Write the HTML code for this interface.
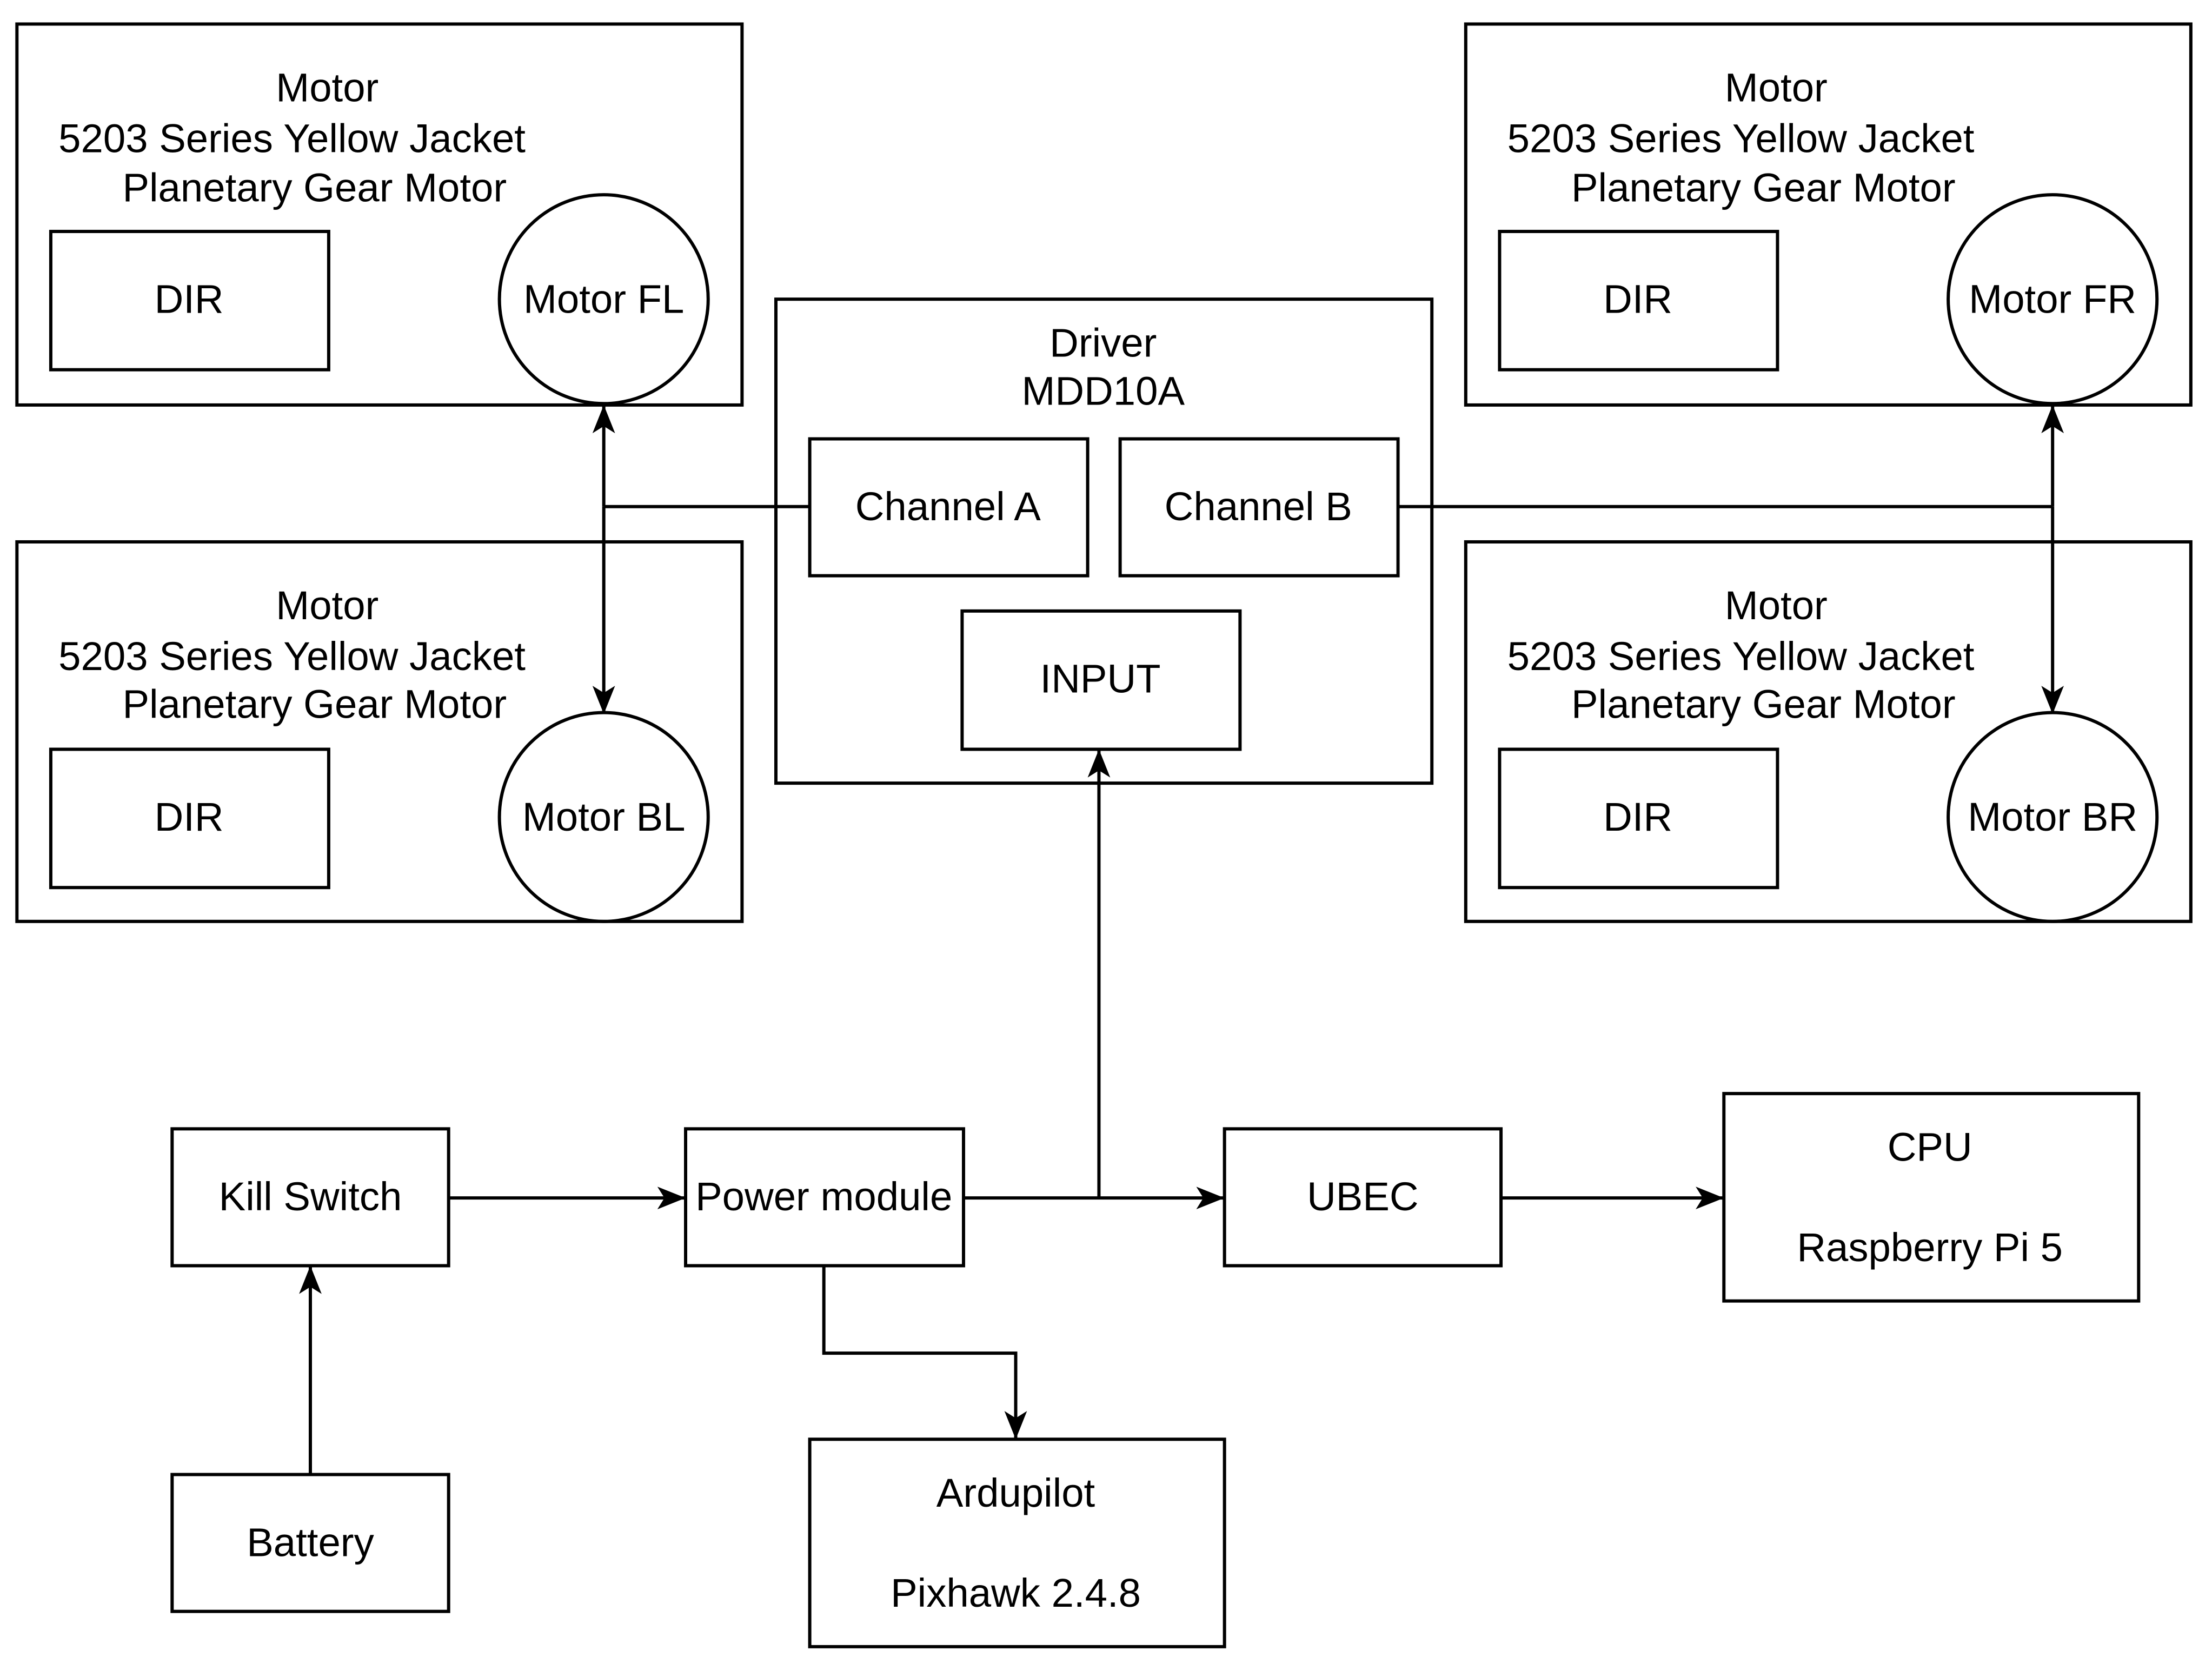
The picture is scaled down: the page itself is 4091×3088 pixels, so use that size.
<!DOCTYPE html>
<html><head><meta charset="utf-8"><style>
html,body{margin:0;padding:0;background:#fff;}
svg{display:block;}
text{font-family:"Liberation Sans",sans-serif;font-size:28.5px;fill:#000;text-anchor:middle;dominant-baseline:central;}
</style></head><body>
<svg width="4091" height="3088" viewBox="0 0 1568 1183.5" xmlns="http://www.w3.org/2000/svg">
<defs>
<marker id="b" markerWidth="20" markerHeight="20" refX="19" refY="10" orient="auto-start-reverse" markerUnits="userSpaceOnUse" viewBox="0 0 20 20"><path d="M0,2 L20,10 L0,18 L5,10 Z" fill="#000"/></marker></defs>
<rect width="1568" height="1184" fill="#fff"/>
<g fill="none" stroke="#000" stroke-width="2.3">
<rect x="12" y="17" width="514" height="270"/>
<rect x="36" y="164" width="197" height="98"/>
<circle cx="428" cy="212" r="74" fill="#fff"/>
<rect x="12" y="384" width="514" height="269"/>
<rect x="36" y="531" width="197" height="98"/>
<circle cx="428" cy="579" r="74" fill="#fff"/>
<rect x="1039" y="17" width="514" height="270"/>
<rect x="1063" y="164" width="197" height="98"/>
<circle cx="1455" cy="212" r="74" fill="#fff"/>
<rect x="1039" y="384" width="514" height="269"/>
<rect x="1063" y="531" width="197" height="98"/>
<circle cx="1455" cy="579" r="74" fill="#fff"/>
<rect x="550" y="212" width="465" height="343"/>
<rect x="574" y="311" width="197" height="97"/>
<rect x="794" y="311" width="197" height="97"/>
<rect x="682" y="433" width="197" height="98"/>
<rect x="122" y="800" width="196" height="97"/>
<rect x="122" y="1045" width="196" height="97"/>
<rect x="486" y="800" width="197" height="97"/>
<rect x="868" y="800" width="196" height="97"/>
<rect x="1222" y="775" width="294" height="147"/>
<rect x="574" y="1020" width="294" height="147"/>
<path d="M574,359 H428"/>
<path d="M428,359 V288" marker-end="url(#b)"/>
<path d="M428,359 V505" marker-end="url(#b)"/>
<path d="M991,359 H1455"/>
<path d="M1455,359 V288" marker-end="url(#b)"/>
<path d="M1455,359 V505" marker-end="url(#b)"/>
<path d="M220,1045 V898" marker-end="url(#b)"/>
<path d="M318,849 H485" marker-end="url(#b)"/>
<path d="M683,849 H867" marker-end="url(#b)"/>
<path d="M779,849 V532" marker-end="url(#b)"/>
<path d="M1064,849 H1221" marker-end="url(#b)"/>
<path d="M584,897 V959 H720 V1019" marker-end="url(#b)"/>
</g>
<g>
<text x="232" y="62">Motor</text><text x="207" y="98">5203 Series Yellow Jacket</text><text x="223" y="133">Planetary Gear Motor</text>
<text x="134" y="212">DIR</text><text x="428" y="212">Motor FL</text>
<text x="232" y="429">Motor</text><text x="207" y="465">5203 Series Yellow Jacket</text><text x="223" y="499">Planetary Gear Motor</text>
<text x="134" y="579">DIR</text><text x="428" y="579">Motor BL</text>
<text x="1259" y="62">Motor</text><text x="1234" y="98">5203 Series Yellow Jacket</text><text x="1250" y="133">Planetary Gear Motor</text>
<text x="1161" y="212">DIR</text><text x="1455" y="212">Motor FR</text>
<text x="1259" y="429">Motor</text><text x="1234" y="465">5203 Series Yellow Jacket</text><text x="1250" y="499">Planetary Gear Motor</text>
<text x="1161" y="579">DIR</text><text x="1455" y="579">Motor BR</text>
<text x="782" y="243">Driver</text><text x="782" y="277">MDD10A</text>
<text x="672" y="359">Channel A</text><text x="892" y="359">Channel B</text><text x="780" y="481">INPUT</text>
<text x="220" y="848">Kill Switch</text><text x="220" y="1093">Battery</text>
<text x="584" y="848">Power module</text><text x="966" y="848">UBEC</text>
<text x="1368" y="813">CPU</text><text x="1368" y="884">Raspberry Pi 5</text>
<text x="720" y="1058">Ardupilot</text><text x="720" y="1129">Pixhawk 2.4.8</text>
</g>
</svg>
</body></html>
